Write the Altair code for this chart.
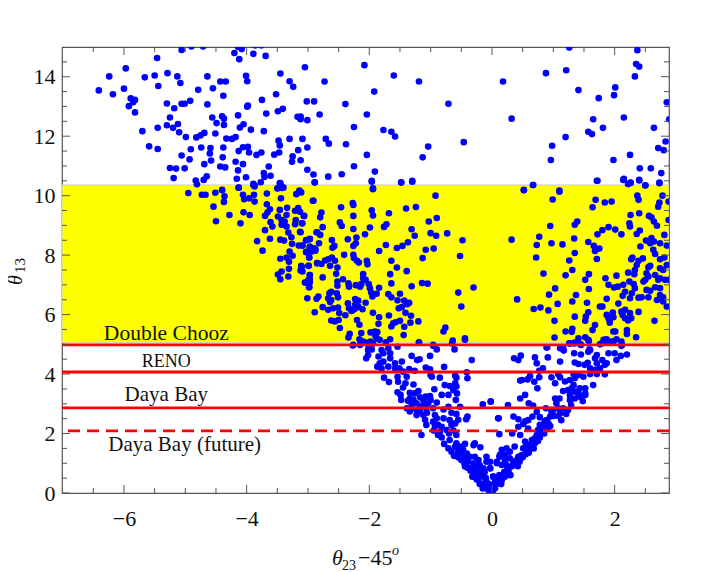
import altair as alt
import pandas as pd

upper_left = [(-6.41,13.54),(-6.18,13.41),(-6.24,14.01),(-5.97,14.28),(-6.00,13.60),(-5.89,13.27),(-5.82,13.22),(-5.85,13.14),(-5.92,13.01),(-5.82,12.80),(-5.70,12.17),(-5.59,11.66),(-5.45,11.57),(-5.45,12.28),(-5.66,13.98),(-5.50,14.04),(-5.46,14.63),(-5.44,13.69),(-5.29,14.12),(-5.13,14.01),(-5.08,13.79),(-5.06,14.90),(-4.90,15.02),(-4.71,15.02),(-4.64,14.01),(-4.79,13.56),(-4.55,13.61),(-4.43,13.84),(-4.34,13.84),(-4.38,13.36),(-4.64,13.07),(-4.92,13.19),(-5.01,13.09),(-5.06,13.09),(-5.30,13.10),(-5.18,12.94),(-5.25,12.63),(-5.30,12.37),(-5.20,12.28),(-5.12,12.41),(-5.10,12.13),(-4.99,11.97),(-4.82,11.96),(-4.75,12.03),(-4.69,12.11),(-4.51,12.09),(-4.56,12.63),(-4.49,12.44),(-4.40,12.67),(-4.37,12.59),(-4.37,12.38),(-4.33,11.92),(-4.24,11.91),(-4.18,11.97),(-4.14,12.70),(-4.05,12.40),(-4.11,12.29),(-3.93,12.22),(-3.98,13.03),(-3.99,12.99),(-3.75,13.22),(-3.68,12.76),(-3.72,12.17),(-3.52,13.41),(-3.49,12.84),(-3.41,12.92),(-3.17,12.65),(-3.12,12.66),(-3.12,12.57),(-3.01,12.54),(-3.02,13.17),(-2.90,13.17),(-2.81,12.73),(-2.39,13.08),(-2.04,12.73),(-2.25,12.31),(-2.73,13.84),(-3.05,14.32),(-2.08,14.39),(-3.45,14.11),(-3.30,13.85),(-3.24,13.66),(-4.01,14.03),(-3.99,13.85),(-4.12,14.59),(-4.20,14.80),(-4.08,14.93),(-4.14,15.0),(-3.89,14.77),(-3.69,14.70),(-3.86,15.05),(-3.76,15.05),(-4.91,11.56),(-4.74,11.62),(-4.59,11.60),(-4.60,11.42),(-4.38,11.62),(-4.39,11.29),(-5.06,11.35),(-4.93,11.22),(-4.58,11.18),(-4.69,11.06),(-5.25,10.93),(-5.15,10.91),(-5.01,10.92),(-5.19,10.59),(-4.83,10.51),(-4.81,10.38),(-4.70,10.53),(-4.65,10.65),(-4.43,10.98),(-4.35,10.95),(-4.18,11.14),(-4.06,11.06),(-4.14,10.85),(-4.16,10.57),(-4.01,10.62),(-4.13,11.50),(-4.06,11.63),(-3.98,11.64),(-3.96,11.45),(-3.84,11.37),(-3.76,11.45),(-3.55,11.38),(-3.47,11.45),(-3.48,11.85),(-3.46,11.69),(-3.30,11.91),(-3.09,11.91),(-3.16,11.53),(-3.01,11.62),(-3.25,11.32),(-3.26,11.14),(-3.12,11.19),(-3.64,10.98),(-3.72,10.76),(-3.71,10.63),(-3.61,10.67),(-3.77,10.45),(-3.89,10.40),(-3.87,10.34),(-4.13,10.27),(-4.40,10.2),(-3.46,10.42),(-3.43,10.31),(-3.40,10.27),(-3.49,10.25),(-3.01,10.87),(-2.91,10.71),(-2.89,10.45),(-2.67,10.64),(-2.45,10.72),(-2.25,10.99),(-2.04,11.37),(-2.71,11.91),(-2.66,11.75),(-2.38,11.73),(-3.14,10.17)]

upper_right = [(-1.92,13.50),(-1.60,14.04),(-1.19,13.84),(-0.71,13.09),(0.18,13.84),(0.32,12.59),(0.88,14.12),(1.21,14.22),(1.26,14.98),(2.37,14.89),(2.35,14.43),(2.40,14.34),(2.33,14.01),(1.41,13.55),(1.74,13.28),(2.01,13.64),(1.99,13.38),(2.85,13.14),(2.15,12.63),(1.65,12.57),(1.81,12.28),(1.57,12.15),(1.63,12.07),(1.20,11.97),(0.98,11.68),(0.96,11.20),(2.64,12.28),(2.83,11.82),(2.71,11.60),(2.80,11.53),(2.25,11.37),(1.98,11.20),(2.41,10.92),(2.59,10.92),(2.76,10.76),(2.15,10.57),(2.40,10.53),(2.22,10.39),(2.26,10.43),(2.50,10.34),(2.73,10.42),(1.72,10.50),(0.67,10.36),(0.52,10.2),(1.10,10.17),(-1.77,12.21),(-1.64,12.15),(-1.58,11.99),(-1.04,11.65),(-1.13,11.29),(-0.46,11.80),(-1.91,10.81),(-1.96,10.50),(-1.48,10.45),(-1.30,10.50),(-1.94,10.25),(2.89,12.57)]

band_far_left = [(-4.95,10.09),(-4.73,10.03),(-4.67,10.03),(-4.51,10.10),(-4.40,10.18),(-4.36,9.98),(-4.37,9.79),(-4.54,9.63),(-4.28,9.35),(-4.50,9.14),(-4.10,9.07),(-4.05,9.44),(-3.95,9.35),(-4.13,10.27),(-4.06,10.03),(-4.04,9.88),(-3.96,9.91),(-3.88,10.03),(-3.87,9.80),(-3.89,10.36),(-3.87,10.31),(-3.67,10.07),(-3.50,10.24),(-3.45,10.42),(-3.42,10.26),(-3.44,9.91),(-3.67,9.71),(-3.62,9.54),(-3.66,9.43),(-3.70,9.32),(-3.46,9.52),(-3.34,9.59),(-3.49,9.30),(-3.35,9.35),(-3.43,9.18),(-3.38,9.13),(-3.43,9.02),(-3.61,9.11),(-3.58,8.96),(-3.70,8.84),(-3.35,8.96),(-3.32,8.76),(-3.27,8.60),(-3.26,8.38),(-3.15,8.32),(-3.09,8.32),(-3.03,8.50),(-2.97,8.53),(-3.62,8.55),(-3.45,8.52),(-3.39,8.49),(-3.83,8.47),(-3.74,8.15),(-3.19,10.05),(-3.13,10.13),(-2.92,9.83),(-3.16,9.58),(-3.21,9.49),(-3.13,9.46),(-3.06,9.32),(-3.20,9.18),(-3.21,9.04),(-3.09,9.07),(-3.13,8.78),(-2.86,8.77),(-3.03,8.10),(-2.97,8.29),(-2.91,8.23),(-2.88,8.20),(-2.94,8.12),(-2.98,7.92),(-2.85,7.73),(-2.99,7.64),(-3.30,8.12),(-3.25,7.98),(-3.35,7.92),(-3.31,7.78),(-3.45,7.88),(-3.31,7.54),(-3.11,7.64),(-3.12,7.48),(-3.43,7.45),(-3.49,7.35),(-3.32,7.28),(-3.45,7.19),(-2.97,7.33),(-2.97,7.19),(-3.04,7.08),(-2.98,6.92)]

band_left = [(-2.89,10.44),(-1.96,10.47),(-1.48,10.44),(-1.30,10.47),(-1.94,10.22),(-0.92,10.0),(-3.11,10.11),(-2.91,9.83),(-2.46,9.61),(-2.27,9.75),(-2.26,9.69),(-2.26,9.32),(-1.96,9.51),(-1.94,9.33),(-1.68,9.41),(-1.40,9.57),(-1.24,9.62),(-2.78,9.43),(-2.80,9.27),(-3.07,9.32),(-3.10,9.07),(-2.48,9.10),(-2.45,8.98),(-2.26,8.88),(-2.76,8.94),(-2.85,8.77),(-2.80,8.68),(-3.12,8.77),(-1.99,8.93),(-2.07,8.70),(-1.72,9.04),(-1.76,8.95),(-1.03,9.13),(-0.90,9.25),(-1.31,8.87),(-1.26,8.65),(-1.00,8.74),(-0.91,8.65),(-0.73,8.73),(-0.48,8.50),(-2.21,8.59),(-2.22,8.40),(-2.26,8.31),(-2.35,8.53),(-2.61,8.51),(-2.82,8.40),(-2.97,8.55),(-3.03,8.51),(-3.09,8.32),(-2.57,8.31),(-2.60,8.25),(-1.73,8.34),(-1.84,8.14),(-1.55,8.24),(-1.46,8.31),(-1.37,8.43),(-1.08,8.18),(-0.95,8.22),(-1.13,7.90),(-0.52,7.97),(-2.97,8.25),(-2.90,8.21),(-2.94,8.14),(-3.03,8.11),(-2.88,8.15),(-2.98,7.92),(-2.41,8.01),(-2.26,8.01),(-2.25,7.90),(-2.20,7.81),(-2.17,7.75),(-2.04,7.81),(-2.03,7.69),(-1.64,7.81),(-1.55,7.58),(-1.39,7.46),(-1.66,7.36),(-1.64,7.05),(-1.14,7.06),(-1.05,7.04),(-1.31,6.95),(-0.30,6.91),(-0.55,6.74),(-0.50,6.27),(-2.85,7.73),(-2.78,7.70),(-2.72,7.82),(-2.67,7.86),(-2.61,7.92),(-2.56,7.81),(-2.64,7.64),(-2.99,7.64),(-3.10,7.61),(-3.09,7.45),(-2.52,7.58),(-2.54,7.37),(-2.76,7.25),(-2.97,7.33),(-2.99,7.17),(-3.05,7.08),(-2.98,6.92),(-2.97,7.08),(-2.43,7.19),(-2.52,7.11),(-2.52,6.97),(-2.34,7.05),(-2.33,6.94),(-2.22,6.99),(-2.15,6.94),(-2.10,7.36),(-2.10,7.22),(-2.06,7.17),(-2.01,7.03),(-2.13,7.03),(-1.99,6.89),(-1.97,6.74),(-1.95,6.61),(-1.88,6.70),(-1.84,6.90),(-1.69,6.69),(-1.64,6.58),(-1.54,6.48),(-1.50,6.70),(-1.43,6.47),(-1.35,6.40),(-1.38,6.35),(-1.52,6.21),(-1.47,6.25),(-1.41,6.06),(-1.32,5.96),(-1.33,5.73),(-1.20,5.77),(-1.68,5.97),(-1.50,5.79),(-1.57,5.74),(-1.61,5.71),(-1.64,5.60),(-1.43,5.59),(-1.44,5.31),(-1.94,6.06),(-1.84,5.91),(-1.85,5.69),(-2.06,6.40),(-2.18,6.47),(-2.23,6.52),(-2.23,6.33),(-2.18,6.27),(-2.11,6.18),(-2.26,6.16),(-2.22,6.21),(-2.35,6.38),(-2.33,6.21),(-2.29,6.12),(-2.39,5.98),(-2.62,6.77),(-2.65,6.72),(-2.67,6.55),(-2.62,6.49),(-2.64,6.42),(-2.53,6.72),(-2.51,6.58),(-2.83,6.61),(-2.86,6.53),(-3.01,6.55),(-2.76,6.25),(-2.67,6.16),(-2.59,6.21),(-2.51,6.24),(-2.49,6.05),(-2.89,6.08),(-2.62,5.80),(-2.56,5.77),(-2.50,5.82),(-2.48,5.55),(-2.20,5.82),(-2.16,5.66),(-2.32,5.35),(-2.34,5.23),(-2.13,5.38),(-1.98,5.40),(-1.91,5.43),(-1.87,5.41),(-1.90,5.28),(-1.88,5.20),(-2.16,5.17),(-2.10,5.09),(-1.98,5.09),(-1.83,5.15),(-1.66,5.17),(-1.73,5.07),(-0.79,5.43),(-0.76,5.56),(-0.44,5.20),(-0.64,5.13),(-1.19,5.07),(-0.96,4.98),(-2.26,4.98),(-2.01,4.92)]

band_right = [(0.32,8.52),(0.41,6.51),(0.52,10.18),(0.67,10.36),(1.10,10.13),(0.99,9.87),(1.71,10.50),(1.64,9.61),(1.69,9.86),(1.84,9.77),(1.95,9.80),(0.95,8.98),(1.39,9.13),(1.35,9.02),(0.77,8.62),(0.73,8.34),(0.72,7.92),(0.97,8.40),(1.15,8.36),(1.34,8.56),(1.35,8.07),(1.26,7.82),(0.84,7.38),(1.31,7.50),(1.20,7.32),(1.57,8.44),(1.66,8.31),(1.75,8.22),(1.68,8.14),(1.71,7.87),(1.72,8.70),(1.80,8.84),(1.90,8.94),(2.01,8.86),(2.11,8.70),(2.24,9.07),(2.25,8.96),(2.26,9.35),(2.40,9.41),(2.37,10.0),(2.39,9.86),(2.14,10.53),(2.22,10.40),(2.26,10.44),(2.40,10.51),(2.50,10.35),(2.73,10.44),(2.78,10.0),(2.71,9.63),(2.73,9.77),(2.88,9.80),(2.56,9.32),(2.60,9.27),(2.64,9.13),(2.69,8.99),(2.36,8.71),(2.41,8.83),(2.81,8.68),(2.88,9.18),(2.51,8.49),(2.60,8.57),(2.58,8.40),(2.64,8.46),(2.74,8.40),(2.42,8.29),(2.85,8.32),(2.63,8.18),(2.66,8.04),(2.29,7.92),(2.27,7.86),(2.46,7.89),(2.39,7.81),(2.36,7.67),(2.74,7.86),(2.81,7.92),(2.85,7.67),(2.58,7.64),(2.55,7.59),(2.74,7.56),(2.79,7.50),(2.33,7.50),(2.32,7.36),(2.22,7.41),(2.52,7.39),(2.55,7.28),(2.50,7.17),(2.47,7.11),(2.66,7.33),(2.71,7.17),(2.74,7.22),(2.82,7.17),(2.88,7.17),(2.03,7.31),(1.85,7.22),(1.58,7.36),(1.52,7.17),(1.90,7.00),(1.58,6.86),(1.99,6.91),(2.05,6.94),(2.14,7.0),(2.24,7.11),(2.31,7.03),(2.33,6.89),(2.17,6.77),(2.13,6.63),(2.28,6.72),(2.25,6.55),(2.39,6.57),(2.44,6.58),(2.55,6.58),(2.69,6.49),(2.52,6.83),(2.58,6.80),(2.66,6.92),(2.74,6.89),(2.74,6.66),(2.79,6.58),(2.79,6.44),(2.85,6.27),(1.87,6.53),(2.06,6.37),(1.03,6.88),(0.93,6.67),(1.37,6.66),(1.31,6.44),(1.07,6.36),(0.79,6.24),(0.68,6.19),(0.92,6.14),(1.55,6.40),(1.57,6.08),(1.53,5.93),(1.52,5.79),(1.76,6.27),(1.80,6.27),(1.35,5.93),(1.02,5.79),(1.68,5.65),(1.64,5.48),(1.31,5.52),(1.30,5.42),(1.20,5.43),(1.87,5.99),(1.90,5.88),(1.92,5.73),(1.97,6.07),(1.98,5.91),(1.92,5.82),(2.11,6.10),(2.17,6.16),(2.13,5.99),(2.17,5.88),(2.25,6.05),(2.27,5.88),(2.22,5.80),(2.39,6.09),(2.65,5.79),(2.20,5.48),(2.20,5.35),(1.98,5.43),(2.01,5.43),(2.35,5.24),(1.02,5.23),(1.41,5.20),(1.52,5.24),(1.57,5.15),(1.82,5.15),(1.87,5.17),(1.98,5.09),(2.03,5.17),(2.11,5.09),(1.76,5.0),(1.26,5.03),(1.34,5.03),(1.44,5.01),(0.89,4.89),(1.11,4.87),(1.16,4.87),(1.59,4.83),(2.11,4.95)]

lower_left = [(-2.27,4.96),(-2.15,4.98),(-2.02,5.06),(-1.94,5.03),(-1.54,4.92),(-1.19,5.06),(-0.96,4.95),(-0.90,4.83),(-0.65,5.03),(-0.61,4.83),(-0.44,5.15),(-2.02,4.81),(-1.96,4.83),(-2.02,4.64),(-2.05,4.53),(-1.80,4.81),(-1.77,4.70),(-1.85,4.59),(-1.69,4.87),(-1.66,4.70),(-1.66,4.53),(-1.58,4.36),(-1.47,4.42),(-1.31,4.61),(-1.22,4.47),(-1.18,4.50),(-1.01,4.61),(-0.33,4.47),(-1.77,4.42),(-1.83,4.36),(-1.87,4.25),(-1.80,4.19),(-1.69,4.25),(-1.58,4.19),(-1.51,4.19),(-1.45,4.08),(-1.35,4.17),(-1.26,4.11),(-1.08,4.22),(-1.01,4.16),(-0.78,4.24),(-1.76,3.88),(-1.68,3.73),(-1.54,3.91),(-1.53,3.74),(-1.39,3.91),(-1.41,3.69),(-1.45,3.55),(-1.28,3.65),(-1.00,3.97),(-0.98,3.91),(-0.85,3.88),(-0.60,3.94),(-0.58,3.88),(-0.41,4.06),(-0.40,3.86),(-0.77,3.63),(-0.69,3.60),(-0.60,3.69),(-0.58,3.58),(-0.63,3.46),(-0.82,3.30),(-0.94,3.49),(-0.57,3.35),(-0.71,3.30),(-0.59,3.13),(-1.54,3.39),(-1.49,3.30),(-1.48,3.13),(-1.34,3.37),(-1.20,3.43),(-1.26,3.35),(-1.34,3.18),(-1.37,3.10),(-1.28,3.13),(-1.17,3.22),(-1.12,3.13),(-1.23,3.02),(-1.31,3.0),(-1.08,3.24),(-1.01,3.26),(-1.0,3.13),(-1.12,2.96),(-1.04,3.02),(-0.90,3.04),(-1.39,2.85),(-1.31,2.85),(-1.34,2.74),(-1.23,2.79),(-1.17,2.90),(-1.07,2.85),(-0.96,2.85),(-1.23,2.62),(-1.12,2.62),(-1.09,2.46),(-1.07,2.29),(-1.17,2.74),(-1.06,2.70),(-0.93,2.62),(-0.90,2.51),(-0.96,2.40),(-0.93,2.25),(-0.79,2.51),(-0.88,2.29),(-0.82,2.23),(-0.71,2.90),(-0.79,2.81),(-0.52,2.90),(-0.66,2.70),(-0.58,2.66),(-0.55,2.46),(-0.60,2.34),(-0.66,2.29),(-0.69,2.45),(-0.40,2.57),(-0.42,2.48),(-0.15,2.98),(-0.02,3.08),(0.10,2.51),(-0.85,2.06),(-0.74,2.12),(-0.63,2.10),(-0.88,1.95),(-0.82,1.87),(-0.69,1.78),(-0.78,1.65),(-0.71,1.50),(-0.66,1.39),(-0.58,1.95),(-0.58,1.67),(-0.60,1.56),(-0.52,1.56),(-0.44,1.65),(-0.55,1.39),(-0.47,1.45),(-0.50,1.28),(-0.41,1.33),(-0.30,1.61),(-0.28,1.67),(-0.19,1.54),(-0.50,1.11),(-0.44,1.17),(-0.36,1.22),(-0.28,1.22),(-0.22,1.11),(-0.44,0.89),(-0.39,1.05),(-0.30,1.0),(-0.33,0.83),(-0.20,0.94),(-0.09,1.22),(-0.09,1.05),(-0.14,0.83),(-0.03,0.83),(-0.28,0.66),(-0.20,0.72),(-0.14,0.55),(-0.22,0.49),(-0.17,0.32),(-0.09,0.38),(-0.11,0.21),(-0.06,0.10),(-0.01,0.05),(0.02,0.55),(0.05,0.38),(0.08,1.05),(0.12,1.22),(-0.03,0.21),(-0.01,0.16),(0.02,0.10)]

lower_right = [(0.90,4.90),(1.13,4.87),(1.17,4.79),(1.27,5.03),(1.35,5.06),(1.45,4.98),(1.58,5.11),(1.79,5.03),(1.87,5.06),(1.95,5.09),(2.12,4.98),(1.84,5.15),(0.36,4.53),(0.43,4.47),(0.47,4.62),(0.70,4.56),(0.73,4.36),(0.91,4.56),(1.11,4.42),(1.34,4.70),(1.45,4.66),(1.57,4.75),(1.60,4.81),(1.71,4.64),(1.68,4.53),(1.90,4.70),(2.0,4.70),(2.10,4.61),(2.03,4.47),(2.20,4.66),(1.35,4.39),(1.41,4.34),(1.51,4.31),(1.56,4.38),(1.71,4.36),(1.80,4.47),(1.84,4.31),(1.87,4.36),(0.83,4.19),(0.77,4.11),(1.76,4.19),(1.68,4.14),(1.60,4.19),(1.08,4.0),(0.97,3.89),(1.03,3.69),(1.84,3.99),(0.62,3.93),(0.58,3.82),(0.69,3.74),(0.77,3.89),(0.74,3.52),(0.46,3.78),(0.49,3.80),(1.33,4.0),(1.41,3.97),(1.49,3.91),(1.60,4.0),(1.71,4.0),(1.19,3.75),(1.27,3.80),(1.35,3.86),(1.11,3.89),(1.65,3.63),(1.16,3.43),(1.24,3.46),(1.30,3.52),(1.33,3.63),(1.27,3.30),(1.35,3.41),(1.41,3.35),(1.43,3.52),(1.52,3.52),(1.52,3.35),(1.27,3.13),(1.35,3.18),(1.43,3.24),(1.48,3.09),(1.52,3.30),(1.03,3.18),(1.10,3.18),(1.05,3.02),(1.29,2.96),(0.46,3.18),(0.54,3.30),(0.60,3.02),(0.67,2.94),(-0.02,3.07),(0.26,2.96),(0.88,2.85),(1.0,2.79),(1.08,2.85),(1.16,2.85),(1.24,2.79),(1.21,2.66),(1.11,2.68),(1.08,2.59),(1.0,2.59),(0.97,2.73),(0.73,2.73),(0.11,2.51),(0.35,2.57),(0.43,2.48),(0.54,2.41),(0.59,2.45),(0.66,2.57),(0.78,2.55),(0.43,2.23),(0.51,2.32),(0.59,2.17),(0.86,2.41),(0.89,2.45),(0.92,2.34),(0.78,2.29),(0.84,2.21),(0.95,2.57),(1.13,2.45),(0.12,1.98),(0.33,2.0),(0.46,1.95),(0.75,2.12),(0.81,2.06),(0.73,1.95),(0.78,1.87),(0.70,1.84),(0.65,1.78),(0.70,1.67),(0.59,1.61),(0.54,1.73),(0.62,1.50),(0.51,1.50),(0.57,1.39),(0.43,1.22),(0.37,1.56),(0.48,1.27),(0.16,1.45),(0.24,1.50),(0.13,1.28),(0.21,1.28),(0.29,1.39),(0.21,1.11),(0.29,1.17),(0.35,1.05),(0.08,1.00),(0.16,0.94),(0.24,0.94),(0.32,0.89),(-0.03,0.83),(0.27,0.72),(0.21,0.55),(0.16,0.44),(0.10,0.33),(0.02,0.55),(0.05,0.16),(-0.01,0.10),(0.03,0.21),(-0.03,1.05)]

# the dense floor of the V, where single dots merge in the picture
v_floor = [(-1.15,1.95),(-0.70,2.0),(-0.95,2.1),(-0.62,1.25),(-0.55,1.2),(-0.45,1.0),(-0.40,0.85),(-0.35,0.75),(-0.30,0.9),(-0.25,0.8),(-0.32,0.55),(-0.25,0.45),(-0.18,0.6),(-0.12,0.7),(-0.2,0.3),(-0.15,0.15),(-0.1,0.5),(-0.05,0.3),(0.0,0.02),(0.04,0.25),(0.08,0.45),(0.12,0.6),(0.15,0.3),(0.2,0.7),(0.25,0.85),(0.3,0.6),(0.35,0.95),(0.4,1.1),(0.45,1.05),(0.5,1.2),(0.55,1.55),(0.6,1.35),(0.65,1.65),(0.7,1.8),(0.55,1.3),(0.42,0.9),(0.75,1.75),(0.85,2.0),(0.9,2.15),(0.95,2.25),(0.68,1.5)]

X_DOMAIN = [-7.01, 2.886]
Y_DOMAIN = [0, 15]
x_major = [-6, -4, -2, 0, 2]
x_minor = [-6.5, -5.5, -5, -4.5, -3.5, -3, -2.5, -1.5, -1, -0.5, 0.5, 1, 1.5, 2.5]
y_major = [0, 2, 4, 6, 8, 10, 12, 14]
y_minor = [0.5, 1, 1.5, 2.5, 3, 3.5, 4.5, 5, 5.5, 6.5, 7, 7.5, 8.5, 9, 9.5, 10.5, 11, 11.5, 12.5, 13, 13.5, 14.5]
bound_solid = [4.98, 4.07, 2.86]
bound_dashed = [2.09]
band_low, band_high = 5.05, 10.36

W, H = 607, 446
FONT = "Liberation Serif"
FRAME = "#555555"

xs = alt.Scale(domain=X_DOMAIN, nice=False, zero=False)
ys = alt.Scale(domain=Y_DOMAIN, nice=False, zero=False)
x_axis = alt.Axis(values=x_major, grid=False, domain=False, ticks=False, format="d", title=None,
                  labelFont=FONT, labelFontSize=22, labelColor="#111111", labelPadding=15)
y_axis = alt.Axis(values=y_major, grid=False, domain=False, ticks=False, format="d", title=None,
                  labelFont=FONT, labelFontSize=22, labelColor="#111111", labelPadding=7)
X = lambda f: alt.X(f, scale=xs, axis=x_axis)
Y = lambda f: alt.Y(f, scale=ys, axis=y_axis)

points = pd.DataFrame(upper_left + upper_right + band_far_left + band_left + band_right + lower_left + lower_right + v_floor, columns=["x", "y"])

band = alt.Chart(pd.DataFrame({"x": [X_DOMAIN[0]], "x2": [X_DOMAIN[1]], "y": [band_low], "y2": [band_high]})).mark_rect(
    color="#ffff00", stroke="#cccccc", strokeWidth=1, clip=True
).encode(x=X("x:Q"), x2="x2:Q", y=Y("y:Q"), y2="y2:Q")

dots = alt.Chart(points).mark_circle(size=44, color="#0000ff", opacity=1, clip=True).encode(x=X("x:Q"), y=Y("y:Q"))

solid = alt.Chart(pd.DataFrame({"y": bound_solid})).mark_rule(color="#ff0000", strokeWidth=2.8).encode(y=Y("y:Q"))
dashed = alt.Chart(pd.DataFrame({"y": bound_dashed})).mark_rule(color="#ff0000", strokeWidth=2.8, strokeDash=[12, 7]).encode(y=Y("y:Q"))


def xticks(vals, length, width):
    d = pd.DataFrame({"x": vals})
    c = alt.Chart(d).mark_rule(color=FRAME, strokeWidth=width)
    return (c.encode(x=X("x:Q"), y=alt.value(H), y2=alt.value(H - length)) +
            c.encode(x=X("x:Q"), y=alt.value(0), y2=alt.value(length)))


def yticks(vals, length, width):
    d = pd.DataFrame({"y": vals})
    c = alt.Chart(d).mark_rule(color=FRAME, strokeWidth=width)
    return (c.encode(y=Y("y:Q"), x=alt.value(0), x2=alt.value(length)) +
            c.encode(y=Y("y:Q"), x=alt.value(W), x2=alt.value(W - length)))


def note(text, x, y, size):
    return alt.Chart(pd.DataFrame({"x": [x], "y": [y], "t": [text]})).mark_text(
        font=FONT, fontSize=size, color="#111111", align="center", baseline="middle"
    ).encode(x=X("x:Q"), y=Y("y:Q"), text="t:N")


def piece(text, px, py, size, style="normal", angle=0):
    return alt.Chart(pd.DataFrame({"t": [text]})).mark_text(
        font=FONT, fontSize=size, fontStyle=style, color="#111111", align="left", baseline="alphabetic", angle=angle
    ).encode(x=alt.value(px), y=alt.value(py), text="t:N")


chart = alt.layer(
    band, dots, solid, dashed,
    xticks(x_major, 8, 1), xticks(x_minor, 5, 1), yticks(y_major, 8, 1), yticks(y_minor, 5, 1),
    note("Double Chooz", -5.31, 5.35, 21.5),
    note("RENO", -5.31, 4.41, 18),
    note("Daya Bay", -5.31, 3.30, 21),
    note("Daya Bay (future)", -5.01, 1.60, 21),
    piece("θ", 270, 518, 22, "italic"),
    piece("23", 280, 523, 14),
    piece("−45", 296, 518, 22),
    piece("o", 330, 508, 14, "italic"),
    piece("θ", -40, 238, 20, "italic", 270),
    piece("13", -37, 226, 15, "normal", 270),
).properties(width=W, height=H, padding={"left": 54, "top": 39, "right": 31, "bottom": 79}, autosize="none").configure_view(stroke=FRAME, strokeWidth=1.2)

chart.save("out.html", embed_options={"renderer": "svg", "actions": False})
